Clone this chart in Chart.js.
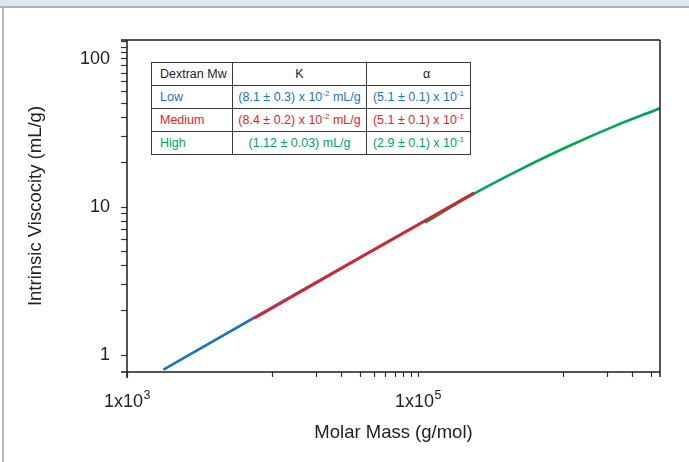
<!DOCTYPE html>
<html><head><meta charset="utf-8">
<script src="https://cdn.jsdelivr.net/npm/chart.js@4.4.1/dist/chart.umd.min.js"></script>
<style>
html,body{margin:0;padding:0;background:#fff;}
#wrap{position:relative;width:689px;height:462px;overflow:hidden;font-family:"Liberation Sans",Arial,sans-serif;background:#fff;}
#band{position:absolute;left:0;top:0;width:689px;height:6px;background:#dfe5ed;}
#hline{position:absolute;left:0;top:6px;width:689px;height:2px;background:#acb0b4;}
#vline{position:absolute;left:2px;top:6px;width:2px;height:456px;background:#b8b8b8;}
canvas{position:absolute;left:0;top:0;}
table{position:absolute;left:151px;top:62px;border-collapse:collapse;border:1.5px solid #2a2a2a;font-size:12.5px;background:#fff;table-layout:fixed;}
td{border:1px solid #3a3a3a;height:22px;padding:0;white-space:nowrap;line-height:12px;}
td.c0{padding-left:8px;text-align:left;}
td.c1,td.c2{text-align:center;}
td.al{padding-left:16px;}
sup{font-size:8px;vertical-align:5px;line-height:0;}
.hd{color:#222;}
.lo{color:#1b75bc;}
.me{color:#ed1c24;}
.hi{color:#00a651;}
</style></head>
<body>
<div id="wrap">
<div id="band"></div><div id="hline"></div><div id="vline"></div>
<canvas id="c" width="689" height="462"></canvas>
<table>
<colgroup><col style="width:81px"><col style="width:134px"><col style="width:104px"></colgroup>
<tr class="hd"><td class="c0">Dextran Mw</td><td class="c1">K</td><td class="c2 al">α</td></tr>
<tr class="lo"><td class="c0">Low</td><td class="c1">(8.1 ± 0.3) x 10<sup>-2</sup> mL/g</td><td class="c2">(5.1 ± 0.1) x 10<sup>-1</sup></td></tr>
<tr class="me"><td class="c0">Medium</td><td class="c1">(8.4 ± 0.2) x 10<sup>-2</sup> mL/g</td><td class="c2">(5.1 ± 0.1) x 10<sup>-1</sup></td></tr>
<tr class="hi"><td class="c0">High</td><td class="c1">(1.12 ± 0.03) mL/g</td><td class="c2">(2.9 ± 0.1) x 10<sup>-1</sup></td></tr>
</table>
</div>
<script>
const massTicks = [1e3, 1e4, 2e4, 3e4, 4e4, 5e4, 6e4, 7e4, 8e4, 9e4, 1e5, 1e6, 2e6, 3e6, 4e6];
const massTickLabels = [[1e3, '1x10', '3'], [1e5, '1x10', '5']];
const viscTicks = [1,2,3,4,5,6,7,8,9,10,20,30,40,50,60,70,80,90,100,110,120,130];
const viscTickLabels = [[1, '1'], [10, '10'], [100, '100']];

const lowMass = [1780, 15450, 243000];
const lowVisc = [0.80, 2.69, 12.5];
const mediumMass = [7500, 42100, 243000];
const mediumVisc = [1.77, 4.68, 12.4];
const highMass = [112000, 228000, 502000, 1110000, 2260000, 4600000];
const highVisc = [7.85, 11.9, 17.9, 26.0, 35.3, 46.4];

const BLUE = '#1b75bc', RED = '#ed1c24', GREEN = '#00a651';
const FONT = '"Liberation Sans", Arial, sans-serif';

function pts(xs, ys){ return xs.map((x,i)=>({x:x, y:ys[i]})); }
function lookup(list, v){
  for (const row of list) if (Math.abs(v - row[0]) / row[0] < 1e-6) return row[1];
  return '';
}

const frame = {
  id: 'frame',
  afterDatasetsDraw(chart){
    const {ctx, chartArea:a} = chart;
    ctx.save();
    ctx.strokeStyle = '#1e1e1e';
    ctx.lineWidth = 1.5;
    ctx.beginPath();
    ctx.moveTo(a.left - 6, a.top); ctx.lineTo(a.right, a.top);
    ctx.moveTo(a.right, a.top); ctx.lineTo(a.right, a.bottom + 5);
    ctx.moveTo(a.left - 6, a.bottom); ctx.lineTo(a.right, a.bottom);
    ctx.moveTo(a.left, a.top); ctx.lineTo(a.left, a.bottom + 6);
    ctx.stroke();
    ctx.restore();
  }
};

// x tick labels with a real superscript exponent, placed through the x scale
const expLabels = {
  id: 'expLabels',
  afterDraw(chart){
    const {ctx} = chart;
    const xs = chart.scales.x;
    ctx.save();
    ctx.fillStyle = '#222';
    ctx.textBaseline = 'alphabetic';
    ctx.textAlign = 'left';
    for (const [v, base, exp] of massTickLabels){
      const px = xs.getPixelForValue(v);
      ctx.font = '18px ' + FONT;
      const wb = ctx.measureText(base).width;
      ctx.font = '12.5px ' + FONT;
      const we = ctx.measureText(exp).width;
      const x0 = px - (wb + we) / 2;
      const baseY = xs.top + 35;
      ctx.font = '18px ' + FONT;
      ctx.fillText(base, x0, baseY);
      ctx.font = '12.5px ' + FONT;
      ctx.fillText(exp, x0 + wb + 0.5, baseY - 8);
    }
    ctx.restore();
  }
};

new Chart(document.getElementById('c'), {
  type: 'line',
  data: {
    datasets: [
      {label:'Low', data: pts(lowMass, lowVisc), borderColor: BLUE, borderWidth: 2.6, pointRadius: 0, tension: 0, order: 3},
      {label:'High', data: pts(highMass, highVisc), borderColor: GREEN, borderWidth: 2.6, pointRadius: 0, cubicInterpolationMode: 'monotone', order: 2},
      {label:'Medium', data: pts(mediumMass, mediumVisc), borderColor: RED, borderWidth: 2.6, pointRadius: 0, tension: 0, order: 1}
    ]
  },
  options: {
    responsive: false,
    animation: false,
    devicePixelRatio: 1,
    layout: {padding: {top: 40, right: 29, bottom: 0, left: 0}},
    plugins: {legend: {display: false}, tooltip: {enabled: false}},
    scales: {
      x: {
        type: 'logarithmic', position: 'bottom', min: 1000, max: 4.6e6,
        afterBuildTicks(s){ s.ticks = massTicks.map(v => ({value: v})); },
        afterFit(s){ s.height = 90; },
        grid: {drawOnChartArea: false, drawTicks: true, tickLength: 5, color: '#333', tickWidth: 1.2},
        border: {display: false},
        ticks: {autoSkip: false, maxRotation: 0, minRotation: 0, padding: 11, color: '#222',
          font: {family: FONT, size: 18},
          callback: () => ''},
        title: {display: true, text: 'Molar Mass (g/mol)', color: '#222', font: {family: FONT, size: 18.5}, padding: {bottom: 18}}
      },
      y: {
        type: 'logarithmic', position: 'left', min: 0.77, max: 134,
        afterBuildTicks(s){ s.ticks = viscTicks.map(v => ({value: v})); },
        afterFit(s){ s.width = 127; },
        grid: {drawOnChartArea: false, drawTicks: true, tickLength: 6, color: '#333', tickWidth: 1.2},
        border: {display: false},
        ticks: {autoSkip: false, padding: 11, color: '#222',
          font: {family: FONT, size: 18},
          callback: (v) => lookup(viscTickLabels, v)},
        title: {display: true, text: 'Intrinsic Viscocity (mL/g)', color: '#222', font: {family: FONT, size: 18.5}, padding: {top: 25}}
      }
    }
  },
  plugins: [frame, expLabels]
});
</script>
</body></html>
